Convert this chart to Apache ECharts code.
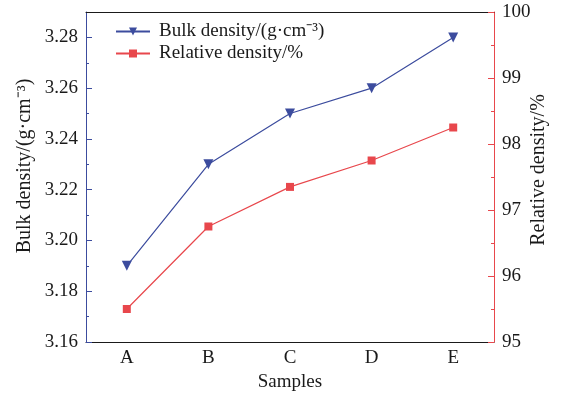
<!DOCTYPE html>
<html>
<head>
<meta charset="utf-8">
<script src="https://cdn.jsdelivr.net/npm/echarts@6/dist/echarts.min.js"></script>
<style>
html, body { margin: 0; padding: 0; background: #fff; }
#main { width: 561px; height: 398px; }
</style>
</head>
<body>
<div id="main"></div>
<script>
var samples = ['A', 'B', 'C', 'D', 'E'];
var bulkDensity = [3.19, 3.23, 3.25, 3.26, 3.28];
var relativeDensity = [95.5, 96.75, 97.35, 97.75, 98.25];
var bulkTicks = [3.16, 3.18, 3.20, 3.22, 3.24, 3.26, 3.28];
var bulkMinorTicks = [3.17, 3.19, 3.21, 3.23, 3.25, 3.27];

var font = 'Liberation Serif';
var blue = '#3c4c9e';
var red = '#e8474c';
var fs = 19;

var chart = echarts.init(document.getElementById('main'));
chart.setOption({
	animation: false,
	textStyle: { fontFamily: font },
	grid: { left: 86, right: 67, top: 12, bottom: 56, containLabel: false, outerBoundsMode: 'none' },
	legend: {
		orient: 'vertical',
		left: 110,
		top: 17,
		itemWidth: 34,
		itemHeight: 10,
		itemGap: 3,
		textStyle: { fontFamily: font, fontSize: fs, color: '#1a1a1a', padding: [0, 0, 0, 4] },
		data: ['Bulk density/(g·cm⁻³)', 'Relative density/%']
	},
	xAxis: [{
		type: 'category',
		data: samples,
		boundaryGap: true,
		name: 'Samples',
		nameLocation: 'middle',
		nameGap: 31,
		nameTextStyle: { fontFamily: font, fontSize: fs, color: '#1a1a1a' },
		axisLine: { lineStyle: { color: '#1a1a1a', width: 1 } },
		axisTick: { inside: true, alignWithLabel: true, length: 6, lineStyle: { color: '#1a1a1a' } },
		axisLabel: { fontFamily: font, fontSize: fs, color: '#1a1a1a', margin: 7 },
		splitLine: { show: false }
	}, {
		type: 'category',
		data: samples,
		position: 'top',
		axisLine: { lineStyle: { color: '#1a1a1a', width: 1 } },
		axisTick: { show: false },
		axisLabel: { show: false },
		splitLine: { show: false }
	}],
	yAxis: [{
		type: 'value',
		position: 'left',
		min: 3.16,
		max: 3.29,
		interval: 0.01,
		name: 'Bulk density/(g·cm⁻³)',
		nameLocation: 'middle',
		nameRotate: 90,
		nameGap: 51,
		nameMoveOverlap: false,
		nameTextStyle: { fontFamily: font, fontSize: 20, color: '#1a1a1a', padding: [0, 0, 0, 22] },
		axisLine: { show: true, lineStyle: { color: blue, width: 1 } },
		axisTick: { show: true, inside: true, length: 6, customValues: bulkTicks, lineStyle: { color: blue } },
		axisLabel: {
			fontFamily: font, fontSize: fs, color: '#1a1a1a', margin: 8,
			customValues: bulkTicks,
			formatter: function (v) { return v.toFixed(2); }
		},
		splitLine: { show: false }
	}, {
		type: 'value',
		position: 'right',
		min: 95,
		max: 100,
		interval: 1,
		name: 'Relative density/%',
		nameLocation: 'middle',
		nameRotate: 90,
		nameGap: 35,
		nameMoveOverlap: false,
		nameTextStyle: { fontFamily: font, fontSize: 20, color: '#1a1a1a', padding: [0, 0, 0, 14] },
		axisLine: { show: true, lineStyle: { color: red, width: 1 } },
		axisTick: { show: true, inside: true, length: 6, lineStyle: { color: red } },
		minorTick: { show: true, splitNumber: 2, length: 3, lineStyle: { color: red } },
		axisLabel: { fontFamily: font, fontSize: fs, color: '#1a1a1a', margin: 8 },
		splitLine: { show: false }
	}, {
		type: 'value',
		position: 'left',
		min: 3.16,
		max: 3.29,
		axisLine: { show: false },
		axisTick: { show: true, inside: true, length: 3, customValues: bulkMinorTicks, lineStyle: { color: blue } },
		axisLabel: { show: false },
		splitLine: { show: false }
	}],
	series: [{
		name: 'Bulk density/(g·cm⁻³)',
		type: 'line',
		yAxisIndex: 0,
		data: bulkDensity,
		symbol: 'triangle',
		symbolRotate: 180,
		symbolSize: 10,
		itemStyle: { color: blue },
		lineStyle: { color: blue, width: 1.2 }
	}, {
		name: 'Relative density/%',
		type: 'line',
		yAxisIndex: 1,
		data: relativeDensity,
		symbol: 'rect',
		symbolSize: 8,
		itemStyle: { color: red },
		lineStyle: { color: red, width: 1.2 }
	}]
});
</script>
</body>
</html>
